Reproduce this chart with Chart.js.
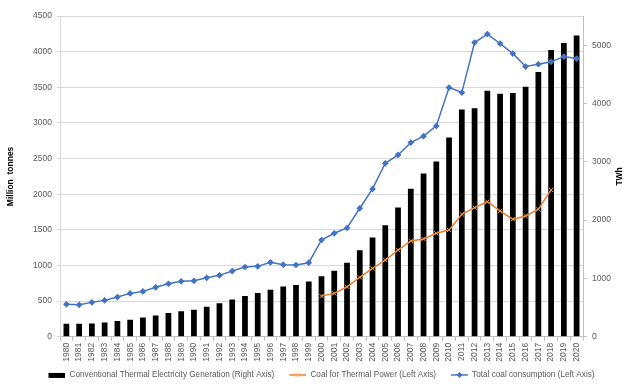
<!DOCTYPE html>
<html>
<head>
<meta charset="utf-8">
<script src="https://cdn.jsdelivr.net/npm/chart.js@4/dist/chart.umd.min.js"></script>
<style>
  body { margin: 0; background: #fff; }
  #wrap { width: 627px; height: 390px; }
</style>
</head>
<body>
<div id="wrap"><canvas id="myChart" width="627" height="390"></canvas></div>
<script>
// years on the x axis
const years = [];
for (let y = 1980; y <= 2020; y++) years.push(String(y));

// thermal electricity generation, TWh (right axis)
const thermalGen = [223, 223, 229, 246, 269, 291, 332, 366, 406, 440,
  463, 514, 577, 641, 698, 749, 806, 864, 886, 949,
  1040, 1131, 1268, 1486, 1704, 1914, 2218, 2537, 2800, 3006,
  3417, 3898, 3920, 4217, 4165, 4182, 4285, 4542, 4919, 5039, 5166];

// coal for thermal power, Mt (left axis) - starts in 2000
const coalPower = [null, null, null, null, null, null, null, null, null, null,
  null, null, null, null, null, null, null, null, null, null,
  571, 609, 702, 834, 960, 1077, 1217, 1344, 1372, 1452,
  1498, 1718, 1811, 1895, 1765, 1648, 1695, 1789, 2060, null, null];

// total coal consumption, Mt (left axis)
const coalTotal = [455, 449, 483, 511, 557, 609, 637, 694, 744, 778,
  786, 828, 862, 922, 979, 988, 1044, 1011, 1007, 1039,
  1358, 1452, 1526, 1803, 2074, 2434, 2551, 2724, 2814, 2958,
  3496, 3426, 4128, 4246, 4114, 3973, 3791, 3824, 3857, 3931, 3903];

const leftTicks = [0, 500, 1000, 1500, 2000, 2500, 3000, 3500, 4000, 4500];
const rightTicks = [0, 1000, 2000, 3000, 4000, 5000];

const txt = '#595959';
const tickFont = { family: 'Liberation Sans', size: 8.5 };

// legend symbols like Excel draws them; left 12px kept empty as gap between items
function legendIcon(kind, color) {
  const c = document.createElement('canvas');
  c.width = 29; c.height = 8;
  const g = c.getContext('2d');
  const x0 = 12;
  if (kind === 'bar') {
    g.fillStyle = color;
    g.fillRect(x0, 2, 17, 5);
  } else {
    g.strokeStyle = color;
    g.lineWidth = 1.5;
    g.beginPath(); g.moveTo(x0, 4); g.lineTo(x0 + 17, 4); g.stroke();
    if (kind === 'cross') {
      g.lineWidth = 1;
      g.strokeStyle = '#f5b041';
      g.beginPath();
      g.moveTo(x0 + 6, 1.5); g.lineTo(x0 + 11, 6.5);
      g.moveTo(x0 + 11, 1.5); g.lineTo(x0 + 6, 6.5);
      g.stroke();
    } else {
      g.fillStyle = color;
      g.beginPath();
      g.moveTo(x0 + 8.5, 1); g.lineTo(x0 + 11.5, 4); g.lineTo(x0 + 8.5, 7); g.lineTo(x0 + 5.5, 4);
      g.closePath(); g.fill();
    }
  }
  return c;
}

// right axis title reads bottom-to-top like the left one
const twhTitle = {
  id: 'twhTitle',
  afterDraw(chart) {
    const s = chart.scales.yR;
    const a = chart.chartArea;
    const c = chart.ctx;
    c.save();
    c.translate(s.right - 5, (a.top + a.bottom) / 2);
    c.rotate(-Math.PI / 2);
    c.font = 'bold 8.5px "Liberation Sans"';
    c.fillStyle = '#000';
    c.textAlign = 'center';
    c.textBaseline = 'middle';
    c.fillText('TWh', 0, 0);
    c.restore();
  }
};

const ctx = document.getElementById('myChart');

new Chart(ctx, {
  data: {
    labels: years,
    datasets: [{
      type: 'bar',
      label: 'Conventional Thermal Electricity Generation (Right Axis)',
      data: thermalGen,
      yAxisID: 'yR',
      backgroundColor: '#000',
      barPercentage: 0.45,
      categoryPercentage: 1,
      order: 3,
      legendIcon: legendIcon('bar', '#000')
    }, {
      type: 'line',
      label: 'Coal for Thermal Power (Left Axis)',
      data: coalPower,
      yAxisID: 'yL',
      borderColor: '#ED7D31',
      borderWidth: 1.5,
      pointStyle: 'crossRot',
      pointRadius: 3,
      pointBorderColor: '#f0a030',
      pointBorderWidth: 1,
      tension: 0,
      order: 1,
      legendIcon: legendIcon('cross', '#ED7D31')
    }, {
      type: 'line',
      label: 'Total coal consumption (Left Axis)',
      data: coalTotal,
      yAxisID: 'yL',
      borderColor: '#4472C4',
      borderWidth: 1.5,
      pointStyle: 'rectRot',
      pointRadius: 2.3,
      pointBackgroundColor: '#4472C4',
      pointBorderColor: '#4472C4',
      tension: 0,
      order: 2,
      legendIcon: legendIcon('diamond', '#4472C4')
    }]
  },
  options: {
    responsive: false,
    animation: false,
    layout: { padding: { left: 6, right: 2, top: 16, bottom: 1 } },
    plugins: {
      tooltip: { enabled: false },
      legend: {
        position: 'bottom',
        labels: {
          color: txt,
          font: { family: 'Liberation Sans', size: 8.2 },
          usePointStyle: true,
          pointStyleWidth: 29,
          boxHeight: 8,
          padding: 3,
          sort: (a, b) => a.datasetIndex - b.datasetIndex,
          generateLabels: (chart) => chart.data.datasets.map((ds, i) => ({
            text: ds.label,
            pointStyle: ds.legendIcon,
            fillStyle: 'transparent',
            strokeStyle: 'transparent',
            lineWidth: 0,
            fontColor: txt,
            datasetIndex: i
          }))
        }
      }
    },
    scales: {
      x: {
        offset: true,
        grid: { offset: true, drawOnChartArea: false, tickLength: 4, color: '#bfbfbf' },
        border: { color: '#bfbfbf' },
        ticks: { color: txt, font: tickFont, minRotation: 90, maxRotation: 90, autoSkip: false, padding: 2 },
        afterFit: (s) => { s.height = 31; }
      },
      yL: {
        position: 'left',
        min: 0, max: 4500,
        afterBuildTicks: (s) => { s.ticks = leftTicks.map(v => ({ value: v })); },
        grid: { color: '#d9d9d9', tickLength: 3 },
        border: { color: '#d9d9d9' },
        ticks: { color: txt, font: tickFont, padding: 5, callback: (v) => String(v) },
        title: { display: true, text: 'Million  tonnes', color: '#000', font: { family: 'Liberation Sans', size: 8.5, weight: 'bold' }, padding: 0 },
        afterFit: (s) => { s.width = 54; }
      },
      yR: {
        position: 'right',
        min: 0, max: 5500,
        afterBuildTicks: (s) => { s.ticks = rightTicks.map(v => ({ value: v })); },
        grid: { drawOnChartArea: false, tickLength: 4, color: '#bfbfbf' },
        border: { color: '#bfbfbf' },
        ticks: { color: txt, font: tickFont, padding: 5, callback: (v) => String(v) },
        afterFit: (s) => { s.width = 42; }
      }
    }
  },
  plugins: [twhTitle]
});
</script>
</body>
</html>
